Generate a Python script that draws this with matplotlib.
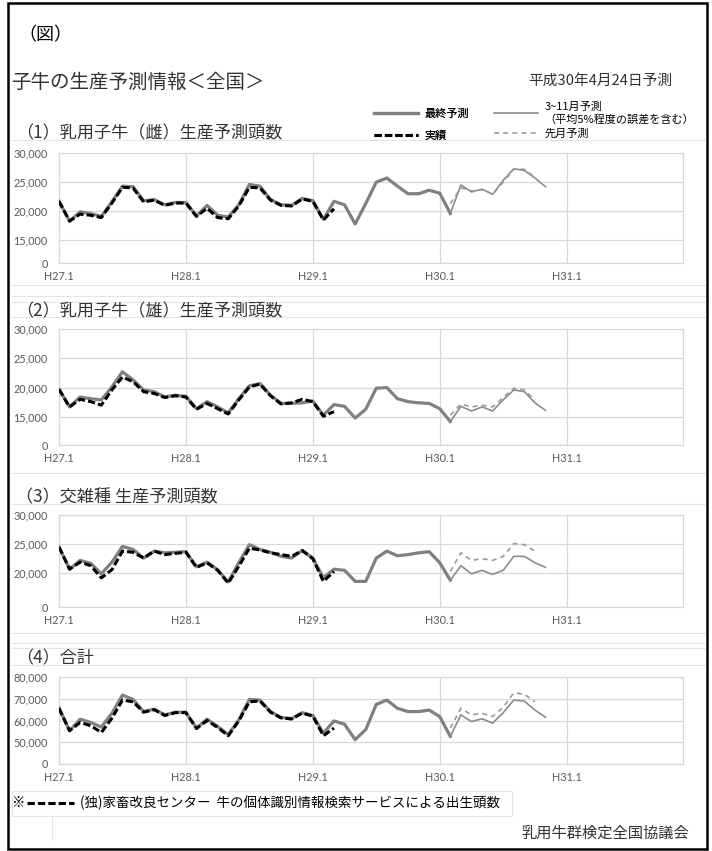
import matplotlib.pyplot as plt
from matplotlib.lines import Line2D
from matplotlib.patches import Rectangle

plt.rcParams['font.family'] = ['Noto Sans CJK JP', 'DejaVu Sans']

x_ticks = [0, 12, 24, 36, 48]
x_labels = ['H27.1', 'H28.1', 'H29.1', 'H30.1', 'H31.1']

# (1) 乳用子牛（雌）
f1_final = [21700, 18300, 19900, 19600, 19100, 21600, 24300, 24200, 21800, 22000, 21100, 21500,
            21500, 19200, 21000, 19300, 19000, 21100, 24600, 24300, 22000, 21100, 21000, 22200,
            21800, 18600, 21700, 21100, 17800, 21300, 25000, 25700, 24300, 23000, 23000, 23600,
            23100, 19600]
f1_actual = [21700, 18300, 19500, 19300, 18900, 21400, 24100, 24000, 21600, 21900, 21000, 21400,
             21400, 19100, 20500, 18900, 18700, 20900, 24100, 24000, 21900, 21000, 20900, 22100,
             21700, 18500, 20400]
f1_fc = [19600, 24500, 23300, 23800, 22900, 25300, 27300, 27000, 25700, 24200]
f1_prev = [21300, 24000, 23500, 23700, 22900, 25000, 27200, 27200, 25800]

# (2) 乳用子牛（雄）
f2_final = [19700, 16700, 18400, 18100, 17900, 20100, 22700, 21300, 19600, 19300, 18400, 18700,
            18500, 16400, 17600, 16700, 15700, 18100, 20300, 20700, 18700, 17300, 17300, 17400,
            17700, 15300, 17100, 16800, 14800, 16300, 19900, 20000, 18100, 17600, 17400, 17300,
            16400, 14200]
f2_actual = [19700, 16700, 18000, 17600, 17000, 19600, 21800, 21000, 19300, 19000, 18300, 18600,
             18400, 16300, 17300, 16400, 15500, 17900, 20100, 20600, 18600, 17200, 17400, 18000,
             17600, 15100, 15900]
f2_fc = [14200, 16800, 16000, 16700, 16000, 17900, 19600, 19300, 17400, 16100]
f2_prev = [15300, 17200, 16700, 17000, 16700, 18300, 19900, 19600, 17900]

# (3) 交雑種
f3_final = [24500, 20700, 22200, 21700, 19900, 21900, 24600, 24100, 22600, 23800, 23500, 23600,
            23700, 21100, 21900, 20600, 18500, 21800, 24900, 24100, 23600, 22900, 22600, 23900,
            22600, 19200, 20700, 20500, 18600, 18600, 22600, 23800, 23000, 23200, 23500, 23700,
            21800, 18800]
f3_actual = [24500, 20700, 21900, 21300, 19200, 20600, 23800, 23600, 22600, 23800, 23200, 23400,
             23600, 21000, 21800, 20500, 18300, 21200, 24300, 24000, 23500, 23200, 22900, 23900,
             22500, 18600, 20300]
f3_fc = [18800, 21300, 19900, 20500, 19800, 20500, 22900, 22900, 21800, 21000]
f3_prev = [20300, 23500, 22200, 22500, 22200, 22900, 25100, 24900, 23800]

# (4) 合計
f4_final = [65600, 55300, 60600, 59100, 57000, 63300, 71700, 69700, 64100, 65200, 62600, 63800,
            63800, 56500, 60600, 57300, 53500, 60300, 69700, 69400, 64100, 61400, 60900, 63600,
            62300, 54200, 59800, 58300, 51200, 55800, 67400, 69400, 65600, 64100, 64100, 64800,
            61800, 52700]
f4_actual = [65600, 55300, 59100, 57600, 54500, 61000, 69400, 68600, 63800, 65000, 62300, 63600,
             63600, 56300, 60000, 56800, 53000, 59800, 68600, 69000, 63800, 61200, 60700, 63400,
             62000, 53000, 56500]
f4_fc = [52700, 62600, 59500, 60800, 58800, 63600, 69400, 68900, 64800, 61500]
f4_prev = [56500, 65600, 62600, 63300, 61800, 66100, 72700, 72100, 68600]

y1_ticks = [11100, 15000, 20000, 25000, 30000]
y1_labels = ['0', '15,000', '20,000', '25,000', '30,000']
y2_ticks = [10200, 15000, 20000, 25000, 30000]
y2_labels = ['0', '15,000', '20,000', '25,000', '30,000']
y3_ticks = [14200, 20000, 25000, 30000]
y3_labels = ['0', '20,000', '25,000', '30,000']
y4_ticks = [40000, 50000, 60000, 70000, 80000]
y4_labels = ['0', '50,000', '60,000', '70,000', '80,000']

panel_titles = ['（1）乳用子牛（雌）生産予測頭数', '（2）乳用子牛（雄）生産予測頭数',
                '（3）交雑種 生産予測頭数', '（4）合計']

W, H = 712, 851
fig = plt.figure(figsize=(W / 100, H / 100), dpi=100)


def px(x0, y0, x1, y1):
    return [x0 / W, 1 - y1 / H, (x1 - x0) / W, (y1 - y0) / H]


def fy(y):
    return 1 - y / H


grid_c = '#d9d9d9'
tick_c = '#595959'


def draw_panel(ax, final, actual, fc, prev, yt, yl):
    start = len(final) - 1
    lf, = ax.plot(range(len(final)), final, color='#808080', lw=2.3, solid_joinstyle='round', zorder=3)
    la, = ax.plot(range(len(actual)), actual, color='black', lw=2.2, dashes=(2.4, 1.0), zorder=4)
    lc, = ax.plot(range(start, start + len(fc)), fc, color='#8c8c8c', lw=1.2, zorder=3)
    lp, = ax.plot(range(start, start + len(prev)), prev, color='#9a9a9a', lw=1.2, dashes=(3, 2.5), zorder=3)
    ax.set_xlim(0, 59)
    ax.set_ylim(yt[0], yt[-1])
    ax.set_xticks(x_ticks, x_labels)
    ax.set_yticks(yt, yl)
    ax.grid(True, color=grid_c, lw=0.9)
    ax.set_axisbelow(True)
    for s in ax.spines.values():
        s.set_color(grid_c)
        s.set_linewidth(0.9)
    ax.tick_params(length=0, labelcolor=tick_c, labelsize=7.8)
    ax.tick_params(axis='x', pad=6)
    ax.tick_params(axis='y', pad=8)
    for lab in ax.get_xticklabels() + ax.get_yticklabels():
        lab.set_family(['Lato', 'DejaVu Sans'])
    return lf, la, lc, lp


ax1 = fig.add_axes(px(59, 153, 683, 263))
ax2 = fig.add_axes(px(59, 329, 683, 445))
ax3 = fig.add_axes(px(59, 515, 683, 607))
ax4 = fig.add_axes(px(59, 677, 683, 764))

handles = draw_panel(ax1, f1_final, f1_actual, f1_fc, f1_prev, y1_ticks, y1_labels)
draw_panel(ax2, f2_final, f2_actual, f2_fc, f2_prev, y2_ticks, y2_labels)
draw_panel(ax3, f3_final, f3_actual, f3_fc, f3_prev, y3_ticks, y3_labels)
draw_panel(ax4, f4_final, f4_actual, f4_fc, f4_prev, y4_ticks, y4_labels)

# faint chart-object borders
for y in [140, 285, 296, 302, 317, 473, 504, 633, 643, 648, 665]:
    fig.add_artist(Line2D([12 / W, 705 / W], [fy(y), fy(y)], color='#e4e4e4', lw=0.8))
fig.add_artist(Rectangle((12 / W, fy(816)), 500 / W, 25 / H, fill=False,
                         edgecolor='#e4e4e4', lw=0.8, transform=fig.transFigure))
fig.add_artist(Line2D([52 / W, 52 / W], [fy(816), fy(840)], color='#e4e4e4', lw=0.8))

# outer frame
fig.add_artist(Rectangle((8 / W, fy(849)), 699 / W, 846 / H, fill=False,
                         edgecolor='black', lw=1.8, transform=fig.transFigure))

fig.text(18 / W, fy(35), '（図）', fontsize=13, va='center', ha='left')
fig.text(11 / W, fy(82), '子牛の生産予測情報＜全国＞', fontsize=14, va='center', ha='left', color='#333333')
fig.text(672 / W, fy(82), '平成30年4月24日予測', fontsize=10.6, va='center', ha='right', color='#333333')

for t, y in zip(panel_titles, [133, 311, 497, 658]):
    fig.text(16 / W, fy(y), t, fontsize=12.3, va='center', ha='left', color='#333333')

leg1 = fig.legend([handles[0], handles[1]], ['最終予測', '実績'], loc='upper left',
                  bbox_to_anchor=(368 / W, fy(103)), frameon=False, fontsize=8, borderpad=0,
                  handlelength=4.0, handletextpad=0.6, labelspacing=1.1)
fig.legend([handles[2], handles[3]], ['3~11月予測\n（平均5%程度の誤差を含む）', '先月予測'],
           loc='upper left', bbox_to_anchor=(488 / W, fy(96)), frameon=False, fontsize=8, borderpad=0,
           handlelength=4.0, handletextpad=0.6, labelspacing=0.4)
fig.add_artist(leg1)

# footnote
fig.text(11 / W, fy(803), '※', fontsize=9.6, va='center', ha='left')
fig.add_artist(Line2D([27 / W, 74 / W], [fy(803), fy(803)], color='black', lw=2.2, dashes=(2.4, 1.0)))
fig.text(80 / W, fy(803), '(独)家畜改良センター  牛の個体識別情報検索サービスによる出生頭数',
         fontsize=9.7, va='center', ha='left')
fig.text(689 / W, fy(833), '乳用牛群検定全国協議会', fontsize=11, va='center', ha='right', color='#333333')

fig.savefig('out.png', dpi=100)
